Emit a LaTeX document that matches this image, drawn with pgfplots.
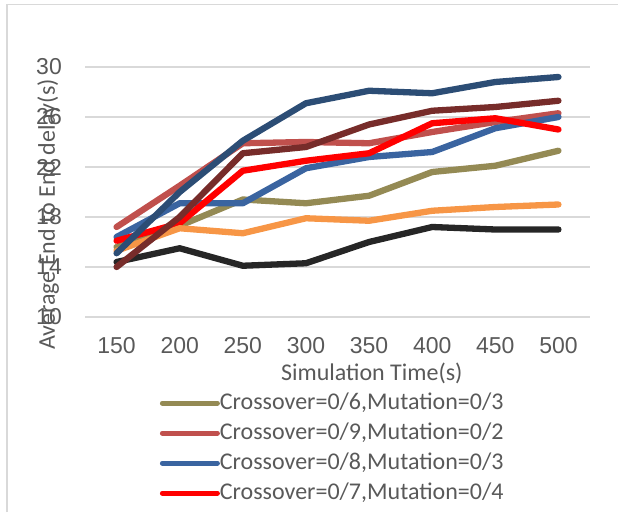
\documentclass[border=0pt]{standalone}
\usepackage{fontspec}
\setmainfont{Carlito}
\newfontfamily\tickfont{Liberation Sans}
\usepackage{pgfplots}
\pgfplotsset{compat=1.18}

\definecolor{txt}{HTML}{595959}
\definecolor{gridc}{HTML}{D9D9D9}
\definecolor{olive}{HTML}{948A54}
\definecolor{lred}{HTML}{C0504D}
\definecolor{mblue}{HTML}{3A64A0}
\definecolor{navy}{HTML}{2C4D75}
\definecolor{dred}{HTML}{772C2A}
\definecolor{orng}{HTML}{F79646}
\definecolor{blk}{HTML}{262626}

\begin{document}
\begin{tikzpicture}[x=1pt,y=1pt]
  \useasboundingbox (0,0) rectangle (618,512);
  % chart frame (only top and left edges are inside the crop)
  \draw[gridc, line width=1.5pt] (7,0) -- (7,507.5) -- (618,507.5);

  \begin{axis}[
    at={(85pt,195pt)}, anchor=south west,
    scale only axis, width=505pt, height=250pt,
    xmin=125, xmax=525,
    ymin=10, ymax=30,
    xtick={150,200,...,500},
    ytick={10,14,...,30},
    axis line style={draw=none},
    major tick length=0pt,
    ymajorgrids=true,
    grid style={gridc, line width=1.3pt},
    /pgf/number format/assume math mode=true,
    ticklabel style={font=\tickfont\fontsize{23}{26}\selectfont, text=txt, inner sep=0pt},
    yticklabel style={anchor=east, xshift=-23pt},
    xticklabel style={anchor=north, yshift=-20pt},
    xlabel={Simulation Time(s)},
    ylabel={Average End to End delay(s)},
    label style={font=\fontsize{24}{28}\selectfont, text=txt},
    xlabel style={at={(axis description cs:0.568,-0.255)}, anchor=base},
    ylabel style={at={(axis description cs:-0.073,0.41)}, anchor=center, rotate=0},
    clip=false,
    legend cell align=left,
    legend style={
      draw=none, fill=none,
      at={(axis description cs:0.142,-0.292)}, anchor=north west,
      font=\fontsize{24}{28}\selectfont, text=txt,
      nodes={inner sep=0pt, text height=17pt, text depth=5pt},
      /tikz/every even column/.append style={column sep=3pt},
      row sep=8pt,
    },
    legend image code/.code={
      \draw[line width=5pt, line cap=round, #1] (0pt,0pt) -- (55pt,0pt);
    },
    every axis plot/.append style={line width=6.3pt, line cap=round, line join=round, mark=none},
  ]
  \addplot[olive] coordinates {(150,15.6)(200,17.3)(250,19.4)(300,19.1)(350,19.7)(400,21.6)(450,22.1)(500,23.3)};
  \addlegendentry{Crossover=0/6,Mutation=0/3}
  \addplot[lred] coordinates {(150,17.2)(200,20.5)(250,23.9)(300,24.0)(350,23.9)(400,24.8)(450,25.6)(500,26.3)};
  \addlegendentry{Crossover=0/9,Mutation=0/2}
  \addplot[mblue] coordinates {(150,16.4)(200,19.1)(250,19.1)(300,21.9)(350,22.8)(400,23.2)(450,25.1)(500,26.0)};
  \addlegendentry{Crossover=0/8,Mutation=0/3}
  \addplot[red] coordinates {(150,16.1)(200,17.5)(250,21.7)(300,22.5)(350,23.1)(400,25.5)(450,25.9)(500,25.0)};
  \addlegendentry{Crossover=0/7,Mutation=0/4}
  \addplot[orng, forget plot] coordinates {(150,15.3)(200,17.1)(250,16.7)(300,17.9)(350,17.7)(400,18.5)(450,18.8)(500,19.0)};
  \addplot[blk, forget plot] coordinates {(150,14.4)(200,15.5)(250,14.1)(300,14.3)(350,16.0)(400,17.2)(450,17.0)(500,17.0)};
  \addplot[dred, forget plot] coordinates {(150,14.0)(200,18.0)(250,23.1)(300,23.6)(350,25.4)(400,26.5)(450,26.8)(500,27.3)};
  \addplot[navy, forget plot] coordinates {(150,15.1)(200,20.0)(250,24.1)(300,27.1)(350,28.1)(400,27.9)(450,28.8)(500,29.2)};
  \end{axis}
\end{tikzpicture}
\end{document}
